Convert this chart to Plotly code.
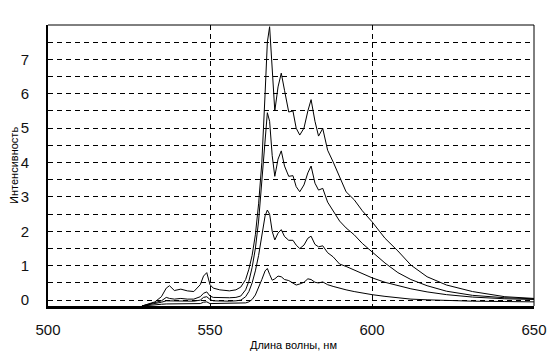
import plotly.graph_objects as go

# Wavelength grid (nm)
wavelength = [529, 531, 533, 535, 536.5, 537.5, 539, 541, 543, 545, 547, 548, 549, 550, 551,
              553, 556, 558, 559.5, 561, 562, 563, 564, 565, 566, 567, 567.7, 568.4, 569.2,
              570, 571, 572, 573, 574.3, 575.6, 576.6, 577.7, 579, 580.2, 581.2, 582.4,
              583.5, 584.8, 586.3, 588, 590, 592, 594.5, 597, 600, 604, 608, 612, 617, 623,
              631, 641, 650]

series_a = [-0.17, -0.12, -0.05, 0.1, 0.35, 0.42, 0.28, 0.32, 0.27, 0.25, 0.45, 0.7, 0.8, 0.45, 0.35,
            0.3, 0.27, 0.3, 0.38, 0.6, 0.9, 1.3, 1.9, 2.8, 4.0, 6.0, 7.5, 7.95, 6.8,
            5.5, 6.2, 6.6, 6.1, 5.47, 5.5, 5.0, 4.8, 5.0, 5.5, 5.83, 5.2,
            4.77, 4.99, 4.36, 4.02, 3.6, 3.15, 2.92, 2.6, 2.28, 1.8, 1.43, 1.02, 0.68, 0.44,
            0.25, 0.1, 0.05]

series_b = [-0.17, -0.12, -0.08, -0.02, 0.08, 0.05, 0.03, 0.05, 0.03, 0.03, 0.1, 0.2, 0.24, 0.12, 0.08,
            0.07, 0.07, 0.08, 0.12, 0.3, 0.55, 0.95, 1.5, 2.3, 3.5, 4.8, 5.45, 5.2, 4.2,
            3.6, 4.1, 4.34, 3.9, 3.6, 3.62, 3.3, 3.15, 3.35, 3.7, 3.9, 3.4,
            3.2, 3.25, 2.85, 2.6, 2.3, 2.1, 1.9, 1.65, 1.4, 1.08, 0.8, 0.6, 0.42, 0.26,
            0.14, 0.07, 0.04]

series_c = [-0.17, -0.14, -0.1, -0.06, -0.02, -0.02, -0.03, -0.02, -0.03, -0.03, 0.0, 0.08, 0.1, 0.02, -0.02,
            -0.03, -0.03, -0.02, 0.0, 0.1, 0.25, 0.5, 0.85, 1.3, 1.9, 2.45, 2.62, 2.5, 2.0,
            1.75, 1.95, 2.05, 1.85, 1.74, 1.74, 1.6, 1.5, 1.6, 1.8, 1.86, 1.62,
            1.55, 1.58, 1.38, 1.26, 1.05, 0.98, 0.88, 0.77, 0.65, 0.52, 0.42, 0.33, 0.24, 0.16,
            0.09, 0.04, 0.02]

series_d = [-0.17, -0.16, -0.14, -0.12, -0.11, -0.11, -0.11, -0.11, -0.11, -0.11, -0.1, -0.06, -0.05, -0.1, -0.1,
            -0.1, -0.1, -0.1, -0.1, -0.08, -0.05, 0.02, 0.15, 0.35, 0.6, 0.85, 0.92, 0.75, 0.58,
            0.62, 0.7, 0.68, 0.6, 0.57, 0.5, 0.44, 0.47, 0.52, 0.62, 0.6, 0.52,
            0.5, 0.53, 0.45, 0.4, 0.34, 0.3, 0.25, 0.2, 0.16, 0.11, 0.06, 0.03, 0.01, -0.01,
            -0.03, -0.04, -0.05]

x_ticks = [500, 550, 600, 650]
y_ticks = [0, 1, 2, 3, 4, 5, 6, 7]

fig = go.Figure()
for s in [series_d, series_c, series_b, series_a]:
    fig.add_trace(go.Scatter(x=wavelength, y=s, mode="lines",
                             line=dict(color="black", width=1), showlegend=False,
                             cliponaxis=True))

font = dict(family="Liberation Sans, Arial, sans-serif", size=15, color="#111")

fig.update_layout(
    width=550, height=360,
    margin=dict(l=48, r=16, t=25, b=54, autoexpand=False),
    paper_bgcolor="white", plot_bgcolor="white",
    font=font,
    xaxis=dict(range=[500, 650], tickvals=x_ticks, ticktext=[str(v) for v in x_ticks],
               showgrid=True, gridcolor="black", gridwidth=1, griddash="5px,4px",
               zeroline=False, showline=True, linecolor="black", linewidth=3,
               ticks="", ticklabelstandoff=8, tickfont=font, automargin=False),
    yaxis=dict(range=[-0.17, 8.0], tickvals=y_ticks, ticktext=[str(v) for v in y_ticks],
               showgrid=True, gridcolor="black", gridwidth=1, griddash="5px,4px",
               minor=dict(dtick=0.5, tick0=0, showgrid=True, gridcolor="black",
                          gridwidth=1, griddash="5px,4px"),
               zeroline=False, showline=True, linecolor="black", linewidth=2,
               ticks="", ticklabelstandoff=14, tickfont=font, automargin=False),
    shapes=[
        dict(type="line", xref="paper", yref="paper", x0=0, x1=1, y0=1, y1=1,
             line=dict(color="black", width=1)),
        dict(type="line", xref="paper", yref="paper", x0=1, x1=1, y0=0, y1=1,
             line=dict(color="black", width=1)),
    ],
    annotations=[
        dict(text="Длина волны, нм", xref="paper", yref="paper", x=0.505, y=-0.11,
             xanchor="center", yanchor="top", showarrow=False,
             font=dict(family="Liberation Sans, Arial, sans-serif", size=11, color="black")),
        dict(text="Интенсивность", xref="paper", yref="paper", x=-0.065, y=0.5,
             xanchor="center", yanchor="middle", textangle=-90, showarrow=False,
             xshift=-3,
             font=dict(family="Liberation Sans, Arial, sans-serif", size=11, color="black")),
    ],
)

fig.write_html("out.html")
